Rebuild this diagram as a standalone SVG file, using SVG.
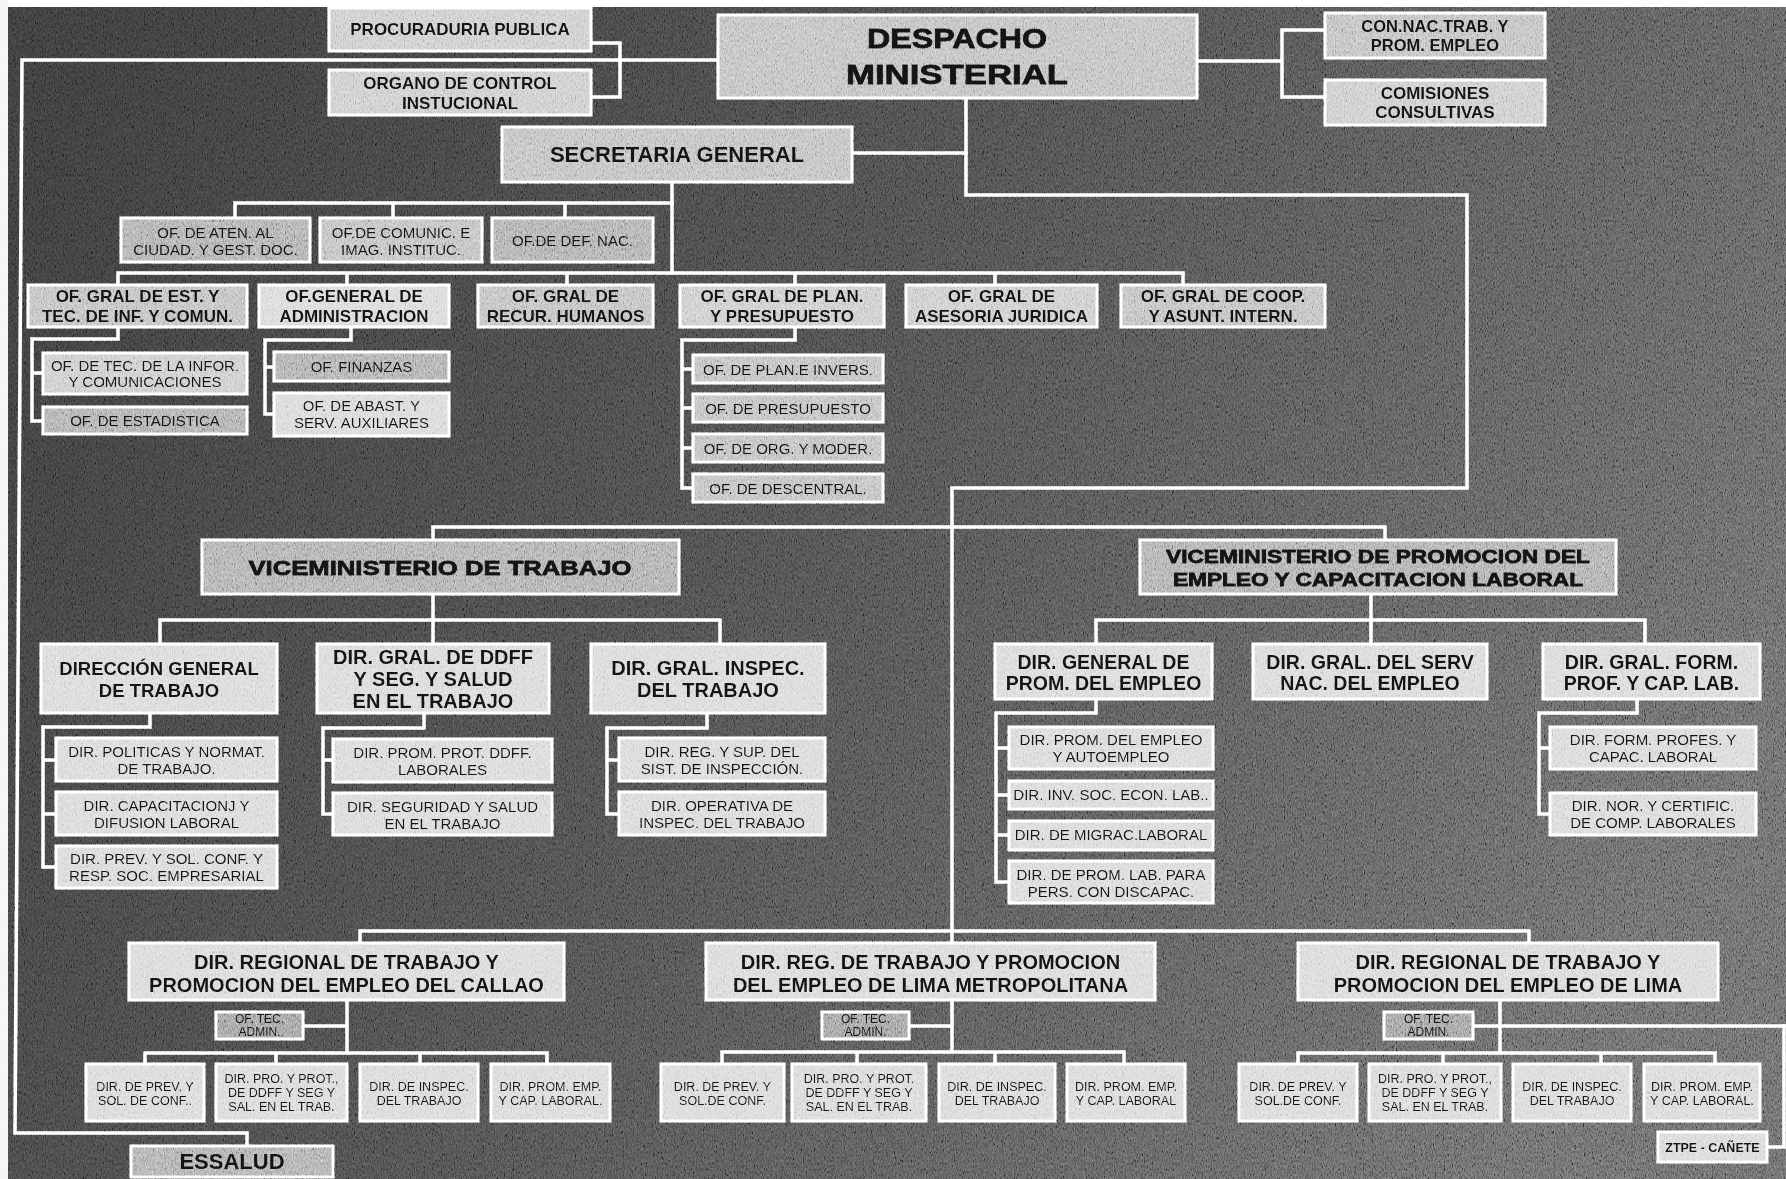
<svg xmlns="http://www.w3.org/2000/svg" width="1786" height="1179" viewBox="0 0 1786 1179">
  <defs>
    <linearGradient id="bgGrad" x1="0" y1="0.2" x2="1" y2="0.6">
      <stop offset="0" stop-color="#383838"/>
      <stop offset="0.45" stop-color="#484848"/>
      <stop offset="1" stop-color="#636363"/>
    </linearGradient>
    <!-- canvas-like grain laid over the whole chart -->
    <filter id="weave" x="0" y="0" width="1786" height="1179" filterUnits="userSpaceOnUse">
      <feTurbulence type="fractalNoise" baseFrequency="1.1 0.35" numOctaves="2" seed="11" result="n"/>
      <feColorMatrix in="n" type="matrix" values="0.33 0.33 0.33 0 0  0.33 0.33 0.33 0 0  0.33 0.33 0.33 0 0  0 0 0 0 1"/>
      <feComponentTransfer>
        <feFuncR type="linear" slope="2.8" intercept="-0.9"/>
        <feFuncG type="linear" slope="2.8" intercept="-0.9"/>
        <feFuncB type="linear" slope="2.8" intercept="-0.9"/>
      </feComponentTransfer>
    </filter>
    <style>
      .bx { stroke:#ffffff; stroke-width:3; }
      .f1 { fill:#d6d6d6; }
      .f2 { fill:#c8c8c8; }
      .f3 { fill:#bbbbbb; }
      .f4 { fill:#a8a8a8; }
      .f5 { fill:#999999; }
      .ln { stroke:#ffffff; stroke-width:3.5; fill:none; stroke-linejoin:miter; stroke-linecap:square; }
      text { font-family:"Liberation Sans", Arial, sans-serif; fill:#111111; text-anchor:middle; }
      .b { font-weight:bold; }
      .hv { font-weight:bold; stroke:#111111; stroke-width:0.8; }
      .s12 { font-size:12px; }
      .s125 { font-size:12.5px; }
      .s15 { font-size:15px; }
      .s165 { font-size:16.5px; }
      .s17 { font-size:17px; }
      .s185 { font-size:18.5px; }
      .s195 { font-size:19.5px; }
      .s20 { font-size:20px; }
      .s22 { font-size:22px; }
    </style>
  </defs>

  <!-- backdrop -->
  <rect x="0" y="0" width="1786" height="1179" fill="url(#bgGrad)"/>
  <rect x="0" y="0" width="1786" height="7" fill="#ffffff"/>
  <rect x="0" y="0" width="8" height="1179" fill="#f4f4f4"/>

  <!-- connectors -->
  <g id="connectors" class="ln">
    <path d="M718,60 H22 L15,1133 H247 V1146"/>
    <path d="M591,43 H620 V97 H591"/>
    <path d="M1197,61 H1282 M1325,30 H1282 V97 H1325"/>
    <path d="M966,98 V195 H1467 V488 H952 V943"/>
    <path d="M852,153 H966"/>
    <path d="M672,182 V273"/>
    <path d="M235,203 H672 M235,203 V218 M393,203 V218 M565,203 V218"/>
    <path d="M118,273 H1183 M118,273 V285 M347,273 V285 M567,273 V285 M795,273 V285 M995,273 V285 M1183,273 V285"/>
    <path d="M118,327 V339 H32 V421 H43 M32,373 H43"/>
    <path d="M351,327 V340 H265 V414 H274 M265,367 H274"/>
    <path d="M795,327 V340 H682 V488 H693 M682,369 H693 M682,408 H693 M682,448 H693"/>
    <path d="M433,527 H1385 M433,527 V540 M1385,527 V540"/>
    <path d="M433,594 V644 M160,620 H720 M160,620 V644 M720,620 V644"/>
    <path d="M150,713 V727 H43 V867 H56 M43,760 H56 M43,814 H56"/>
    <path d="M424,713 V728 H323 V814 H333 M323,760 H333"/>
    <path d="M707,713 V728 H607 V814 H619 M607,760 H619"/>
    <path d="M1371,594 V644 M1096,620 H1645 M1096,620 V644 M1645,620 V644"/>
    <path d="M1096,699 V713 H996 V882 H1009 M996,748 H1009 M996,795 H1009 M996,835 H1009"/>
    <path d="M1637,699 V713 H1539 V814 H1550 M1539,748 H1550"/>
    <path d="M360,931 H1529 M360,931 V943 M1529,931 V943"/>
    <path d="M347,1000 V1053 M303,1026 H347 M145,1053 H547 M145,1053 V1064 M276,1053 V1064 M420,1053 V1064 M547,1053 V1064"/>
    <path d="M952,1000 V1052 M909,1026 H952 M722,1052 H1124 M722,1052 V1064 M857,1052 V1064 M995,1052 V1064 M1124,1052 V1064"/>
    <path d="M1500,1000 V1053 M1473,1026 H1790 M1298,1053 H1715 M1298,1053 V1064 M1443,1053 V1064 M1601,1053 V1064 M1715,1053 V1064"/>
    <path d="M1784,1026 V1147 H1767"/>
  </g>

  <!-- top level -->
  <g id="procuraduria">
    <rect class="bx f2" x="329" y="8" width="262" height="43"/>
    <text class="b s17" x="460" y="35">PROCURADURIA PUBLICA</text>
  </g>
  <g id="organo-control">
    <rect class="bx f2" x="329" y="70" width="262" height="45"/>
    <text class="b s17" x="460"><tspan x="460" y="89">ORGANO DE CONTROL</tspan><tspan x="460" y="109">INSTUCIONAL</tspan></text>
  </g>
  <g id="despacho">
    <rect class="bx f3" x="718" y="15" width="479" height="83"/>
    <text class="hv" style="font-size:28px" x="957" y="48" textLength="180" lengthAdjust="spacingAndGlyphs">DESPACHO</text>
    <text class="hv" style="font-size:28px" x="957" y="84" textLength="222" lengthAdjust="spacingAndGlyphs">MINISTERIAL</text>
  </g>
  <g id="con-nac">
    <rect class="bx f3" x="1325" y="13" width="220" height="45"/>
    <text class="b s165" x="1435"><tspan x="1435" y="32">CON.NAC.TRAB. Y</tspan><tspan x="1435" y="51">PROM. EMPLEO</tspan></text>
  </g>
  <g id="comisiones">
    <rect class="bx f2" x="1325" y="80" width="220" height="45"/>
    <text class="b s17" x="1435"><tspan x="1435" y="99">COMISIONES</tspan><tspan x="1435" y="118">CONSULTIVAS</tspan></text>
  </g>
  <g id="secretaria">
    <rect class="bx f3" x="502" y="127" width="350" height="55"/>
    <text class="b s22" x="677" y="162">SECRETARIA GENERAL</text>
  </g>

  <!-- offices under the general secretariat -->
  <g id="of-aten">
    <rect class="bx f4" x="121" y="218" width="189" height="44"/>
    <text class="s15" x="215.5"><tspan x="215.5" y="238">OF. DE ATEN. AL</tspan><tspan x="215.5" y="255">CIUDAD.  Y GEST. DOC.</tspan></text>
  </g>
  <g id="of-comunic">
    <rect class="bx f3" x="320" y="218" width="162" height="44"/>
    <text class="s15" x="401"><tspan x="401" y="238">OF.DE COMUNIC. E</tspan><tspan x="401" y="255">IMAG. INSTITUC.</tspan></text>
  </g>
  <g id="of-def">
    <rect class="bx f4" x="492" y="218" width="161" height="44"/>
    <text class="s15" x="572.5" y="246">OF.DE DEF. NAC.</text>
  </g>

  <g id="og-est">
    <rect class="bx f3" x="28" y="285" width="219" height="42"/>
    <text class="b s17" x="137.5"><tspan x="137.5" y="302">OF. GRAL DE EST. Y</tspan><tspan x="137.5" y="322">TEC. DE INF. Y COMUN.</tspan></text>
  </g>
  <g id="og-admin">
    <rect class="bx f1" x="259" y="285" width="190" height="42"/>
    <text class="b s17" x="354"><tspan x="354" y="302">OF.GENERAL DE</tspan><tspan x="354" y="322">ADMINISTRACION</tspan></text>
  </g>
  <g id="og-rrhh">
    <rect class="bx f3" x="478" y="285" width="175" height="42"/>
    <text class="b s17" x="565.5"><tspan x="565.5" y="302">OF. GRAL DE</tspan><tspan x="565.5" y="322">RECUR. HUMANOS</tspan></text>
  </g>
  <g id="og-plan">
    <rect class="bx f2" x="680" y="285" width="204" height="42"/>
    <text class="b s17" x="782"><tspan x="782" y="302">OF. GRAL DE PLAN.</tspan><tspan x="782" y="322">Y PRESUPUESTO</tspan></text>
  </g>
  <g id="og-asesoria">
    <rect class="bx f2" x="906" y="285" width="191" height="42"/>
    <text class="b s17" x="1001.5"><tspan x="1001.5" y="302">OF. GRAL DE</tspan><tspan x="1001.5" y="322">ASESORIA JURIDICA</tspan></text>
  </g>
  <g id="og-coop">
    <rect class="bx f3" x="1121" y="285" width="204" height="42"/>
    <text class="b s17" x="1223"><tspan x="1223" y="302">OF. GRAL DE  COOP.</tspan><tspan x="1223" y="322">Y  ASUNT. INTERN.</tspan></text>
  </g>

  <g id="of-tec-info">
    <rect class="bx f2" x="43" y="353" width="204" height="41"/>
    <text class="s15" x="145"><tspan x="145" y="371">OF. DE TEC.  DE LA INFOR.</tspan><tspan x="145" y="387">Y COMUNICACIONES</tspan></text>
  </g>
  <g id="of-estadistica">
    <rect class="bx f4" x="43" y="407" width="204" height="27"/>
    <text class="s15" x="145" y="426">OF. DE ESTADISTICA</text>
  </g>
  <g id="of-finanzas">
    <rect class="bx f4" x="274" y="352" width="175" height="29"/>
    <text class="s15" x="361.5" y="372">OF.  FINANZAS</text>
  </g>
  <g id="of-abast">
    <rect class="bx f1" x="274" y="393" width="175" height="43"/>
    <text class="s15" x="361.5"><tspan x="361.5" y="411">OF. DE ABAST. Y</tspan><tspan x="361.5" y="428">SERV. AUXILIARES</tspan></text>
  </g>
  <g id="of-plan-inv">
    <rect class="bx f3" x="693" y="355" width="190" height="28"/>
    <text class="s15" x="788" y="374.5">OF. DE PLAN.E  INVERS.</text>
  </g>
  <g id="of-presupuesto">
    <rect class="bx f3" x="693" y="394" width="190" height="28"/>
    <text class="s15" x="788" y="413.5">OF. DE PRESUPUESTO</text>
  </g>
  <g id="of-org">
    <rect class="bx f3" x="693" y="434" width="190" height="28"/>
    <text class="s15" x="788" y="453.5">OF. DE ORG. Y MODER.</text>
  </g>
  <g id="of-descentral">
    <rect class="bx f3" x="693" y="474" width="190" height="28"/>
    <text class="s15" x="788" y="493.5">OF. DE DESCENTRAL.</text>
  </g>

  <!-- vice-ministry of labour -->
  <g id="vm-trabajo">
    <rect class="bx f4" x="202" y="540" width="477" height="54"/>
    <text class="hv" style="font-size:21px" x="440" y="575" textLength="383" lengthAdjust="spacingAndGlyphs">VICEMINISTERIO DE TRABAJO</text>
  </g>
  <g id="dg-trabajo">
    <rect class="bx f1" x="41" y="644" width="236" height="69"/>
    <text class="b s185" x="159"><tspan x="159" y="675">DIRECCIÓN GENERAL</tspan><tspan x="159" y="697">DE TRABAJO</tspan></text>
  </g>
  <g id="dg-ddff">
    <rect class="bx f1" x="317" y="644" width="232" height="69"/>
    <text class="b s20" x="433"><tspan x="433" y="664">DIR. GRAL. DE DDFF</tspan><tspan x="433" y="686">Y SEG. Y SALUD</tspan><tspan x="433" y="708">EN EL TRABAJO</tspan></text>
  </g>
  <g id="dg-inspec">
    <rect class="bx f1" x="591" y="644" width="234" height="69"/>
    <text class="b s20" x="708"><tspan x="708" y="675">DIR. GRAL. INSPEC.</tspan><tspan x="708" y="697">DEL TRABAJO</tspan></text>
  </g>

  <g id="d-politicas">
    <rect class="bx f1" x="56" y="738" width="221" height="43"/>
    <text class="s15" x="166.5"><tspan x="166.5" y="757">DIR. POLITICAS  Y NORMAT.</tspan><tspan x="166.5" y="774">DE TRABAJO.</tspan></text>
  </g>
  <g id="d-capacitacion">
    <rect class="bx f1" x="56" y="792" width="221" height="43"/>
    <text class="s15" x="166.5"><tspan x="166.5" y="811">DIR. CAPACITACIONJ Y</tspan><tspan x="166.5" y="828">DIFUSION  LABORAL</tspan></text>
  </g>
  <g id="d-prevencion">
    <rect class="bx f1" x="56" y="846" width="221" height="42"/>
    <text class="s15" x="166.5"><tspan x="166.5" y="864">DIR. PREV. Y SOL. CONF.  Y</tspan><tspan x="166.5" y="881">RESP. SOC. EMPRESARIAL</tspan></text>
  </g>
  <g id="d-prom-ddff">
    <rect class="bx f1" x="333" y="739" width="219" height="43"/>
    <text class="s15" x="442.5"><tspan x="442.5" y="758">DIR. PROM. PROT. DDFF.</tspan><tspan x="442.5" y="775">LABORALES</tspan></text>
  </g>
  <g id="d-seguridad">
    <rect class="bx f1" x="333" y="793" width="219" height="42"/>
    <text class="s15" x="442.5"><tspan x="442.5" y="812">DIR. SEGURIDAD Y SALUD</tspan><tspan x="442.5" y="829">EN EL TRABAJO</tspan></text>
  </g>
  <g id="d-reg-sup">
    <rect class="bx f1" x="619" y="738" width="206" height="43"/>
    <text class="s15" x="722"><tspan x="722" y="757">DIR. REG.  Y SUP.  DEL</tspan><tspan x="722" y="774">SIST.  DE INSPECCIÓN.</tspan></text>
  </g>
  <g id="d-operativa">
    <rect class="bx f1" x="619" y="792" width="206" height="43"/>
    <text class="s15" x="722"><tspan x="722" y="811">DIR. OPERATIVA DE</tspan><tspan x="722" y="828">INSPEC. DEL TRABAJO</tspan></text>
  </g>

  <!-- vice-ministry of employment promotion -->
  <g id="vm-promocion">
    <rect class="bx f4" x="1140" y="540" width="476" height="54"/>
    <text class="hv" style="font-size:19px" x="1378" y="563" textLength="424" lengthAdjust="spacingAndGlyphs">VICEMINISTERIO DE PROMOCION DEL</text>
    <text class="hv" style="font-size:19px" x="1378" y="586" textLength="410" lengthAdjust="spacingAndGlyphs">EMPLEO Y CAPACITACION LABORAL</text>
  </g>
  <g id="dg-prom-empleo">
    <rect class="bx f1" x="995" y="644" width="217" height="55"/>
    <text class="b s195" x="1103.5"><tspan x="1103.5" y="669">DIR. GENERAL DE</tspan><tspan x="1103.5" y="690">PROM. DEL EMPLEO</tspan></text>
  </g>
  <g id="dg-serv-empleo">
    <rect class="bx f1" x="1253" y="644" width="234" height="55"/>
    <text class="b s195" x="1370"><tspan x="1370" y="669">DIR. GRAL. DEL SERV</tspan><tspan x="1370" y="690">NAC.  DEL EMPLEO</tspan></text>
  </g>
  <g id="dg-form-prof">
    <rect class="bx f1" x="1543" y="644" width="217" height="55"/>
    <text class="b s195" x="1651.5"><tspan x="1651.5" y="669">DIR. GRAL. FORM.</tspan><tspan x="1651.5" y="690">PROF. Y CAP. LAB.</tspan></text>
  </g>

  <g id="d-autoempleo">
    <rect class="bx f1" x="1009" y="727" width="204" height="42"/>
    <text class="s15" x="1111"><tspan x="1111" y="745">DIR. PROM. DEL EMPLEO</tspan><tspan x="1111" y="762">Y AUTOEMPLEO</tspan></text>
  </g>
  <g id="d-inv-soc">
    <rect class="bx f1" x="1009" y="781" width="204" height="28"/>
    <text class="s15" x="1111" y="800">DIR. INV. SOC. ECON. LAB..</text>
  </g>
  <g id="d-migrac">
    <rect class="bx f1" x="1009" y="821" width="204" height="29"/>
    <text class="s15" x="1111" y="840">DIR. DE MIGRAC.LABORAL</text>
  </g>
  <g id="d-discapac">
    <rect class="bx f1" x="1009" y="861" width="204" height="42"/>
    <text class="s15" x="1111"><tspan x="1111" y="880">DIR. DE PROM. LAB. PARA</tspan><tspan x="1111" y="897">PERS. CON DISCAPAC.</tspan></text>
  </g>
  <g id="d-form-profes">
    <rect class="bx f1" x="1550" y="727" width="206" height="42"/>
    <text class="s15" x="1653"><tspan x="1653" y="745">DIR. FORM. PROFES. Y</tspan><tspan x="1653" y="762">CAPAC. LABORAL</tspan></text>
  </g>
  <g id="d-certific">
    <rect class="bx f1" x="1550" y="793" width="206" height="42"/>
    <text class="s15" x="1653"><tspan x="1653" y="811">DIR. NOR. Y CERTIFIC.</tspan><tspan x="1653" y="828">DE  COMP. LABORALES</tspan></text>
  </g>

  <!-- regional directorates -->
  <g id="dr-callao">
    <rect class="bx f1" x="129" y="943" width="435" height="57"/>
    <text class="b s20" x="346.5"><tspan x="346.5" y="969">DIR. REGIONAL DE TRABAJO Y</tspan><tspan x="346.5" y="992">PROMOCION DEL EMPLEO DEL CALLAO</tspan></text>
  </g>
  <g id="dr-lima-metro">
    <rect class="bx f1" x="706" y="943" width="449" height="57"/>
    <text class="b s20" x="930.5"><tspan x="930.5" y="969">DIR. REG. DE TRABAJO Y PROMOCION</tspan><tspan x="930.5" y="992">DEL EMPLEO DE LIMA METROPOLITANA</tspan></text>
  </g>
  <g id="dr-lima">
    <rect class="bx f1" x="1298" y="943" width="420" height="57"/>
    <text class="b s20" x="1508"><tspan x="1508" y="969">DIR. REGIONAL  DE TRABAJO Y</tspan><tspan x="1508" y="992">PROMOCION DEL EMPLEO DE LIMA</tspan></text>
  </g>

  <g id="tec-callao">
    <rect class="bx f5" x="216" y="1012" width="87" height="27"/>
    <text class="s12" x="259.5"><tspan x="259.5" y="1023">OF. TEC.</tspan><tspan x="259.5" y="1036">ADMIN.</tspan></text>
  </g>
  <g id="tec-metro">
    <rect class="bx f5" x="822" y="1012" width="87" height="27"/>
    <text class="s12" x="865.5"><tspan x="865.5" y="1023">OF. TEC.</tspan><tspan x="865.5" y="1036">ADMIN.</tspan></text>
  </g>
  <g id="tec-lima">
    <rect class="bx f5" x="1384" y="1012" width="89" height="27"/>
    <text class="s12" x="1428.5"><tspan x="1428.5" y="1023">OF. TEC.</tspan><tspan x="1428.5" y="1036">ADMIN.</tspan></text>
  </g>

  <g id="callao-prev">
    <rect class="bx f1" x="86" y="1064" width="118" height="57"/>
    <text class="s125" x="145"><tspan x="145" y="1091">DIR. DE  PREV. Y</tspan><tspan x="145" y="1105">SOL. DE CONF..</tspan></text>
  </g>
  <g id="callao-ddff">
    <rect class="bx f1" x="216" y="1064" width="131" height="57"/>
    <text class="s125" x="281.5"><tspan x="281.5" y="1083">DIR. PRO. Y PROT.,</tspan><tspan x="281.5" y="1097">DE DDFF Y SEG Y</tspan><tspan x="281.5" y="1111">SAL. EN EL TRAB.</tspan></text>
  </g>
  <g id="callao-inspec">
    <rect class="bx f1" x="360" y="1064" width="118" height="57"/>
    <text class="s125" x="419"><tspan x="419" y="1091">DIR. DE INSPEC.</tspan><tspan x="419" y="1105">DEL TRABAJO</tspan></text>
  </g>
  <g id="callao-prom">
    <rect class="bx f1" x="491" y="1064" width="119" height="57"/>
    <text class="s125" x="550.5"><tspan x="550.5" y="1091">DIR. PROM. EMP.</tspan><tspan x="550.5" y="1105">Y  CAP. LABORAL.</tspan></text>
  </g>

  <g id="metro-prev">
    <rect class="bx f1" x="661" y="1064" width="123" height="57"/>
    <text class="s125" x="722.5"><tspan x="722.5" y="1091">DIR. DE  PREV. Y</tspan><tspan x="722.5" y="1105">SOL.DE CONF.</tspan></text>
  </g>
  <g id="metro-ddff">
    <rect class="bx f1" x="792" y="1064" width="134" height="57"/>
    <text class="s125" x="859"><tspan x="859" y="1083">DIR. PRO. Y PROT.</tspan><tspan x="859" y="1097">DE DDFF Y SEG Y</tspan><tspan x="859" y="1111">SAL. EN EL TRAB.</tspan></text>
  </g>
  <g id="metro-inspec">
    <rect class="bx f1" x="939" y="1064" width="116" height="57"/>
    <text class="s125" x="997"><tspan x="997" y="1091">DIR. DE INSPEC.</tspan><tspan x="997" y="1105">DEL TRABAJO</tspan></text>
  </g>
  <g id="metro-prom">
    <rect class="bx f1" x="1067" y="1064" width="118" height="57"/>
    <text class="s125" x="1126"><tspan x="1126" y="1091">DIR. PROM. EMP.</tspan><tspan x="1126" y="1105">Y  CAP. LABORAL</tspan></text>
  </g>

  <g id="lima-prev">
    <rect class="bx f1" x="1239" y="1064" width="118" height="57"/>
    <text class="s125" x="1298"><tspan x="1298" y="1091">DIR. DE  PREV. Y</tspan><tspan x="1298" y="1105">SOL.DE CONF.</tspan></text>
  </g>
  <g id="lima-ddff">
    <rect class="bx f1" x="1369" y="1064" width="132" height="57"/>
    <text class="s125" x="1435"><tspan x="1435" y="1083">DIR. PRO. Y PROT.,</tspan><tspan x="1435" y="1097">DE DDFF Y SEG Y</tspan><tspan x="1435" y="1111">SAL. EN EL TRAB.</tspan></text>
  </g>
  <g id="lima-inspec">
    <rect class="bx f1" x="1513" y="1064" width="118" height="57"/>
    <text class="s125" x="1572"><tspan x="1572" y="1091">DIR. DE INSPEC.</tspan><tspan x="1572" y="1105">DEL TRABAJO</tspan></text>
  </g>
  <g id="lima-prom">
    <rect class="bx f1" x="1644" y="1064" width="116" height="57"/>
    <text class="s125" x="1702"><tspan x="1702" y="1091">DIR. PROM. EMP.</tspan><tspan x="1702" y="1105">Y  CAP. LABORAL.</tspan></text>
  </g>

  <g id="essalud">
    <rect class="bx f4" x="131" y="1146" width="202" height="31"/>
    <text class="b s22" x="232" y="1169">ESSALUD</text>
  </g>
  <g id="ztpe-canete">
    <rect class="bx f1" x="1658" y="1132" width="109" height="30"/>
    <text class="b s125" x="1712.5" y="1152">ZTPE - CAÑETE</text>
  </g>

  <!-- grain over everything -->
  <rect x="0" y="0" width="1786" height="1179" filter="url(#weave)" opacity="0.5" style="mix-blend-mode:overlay; pointer-events:none"/>
</svg>
